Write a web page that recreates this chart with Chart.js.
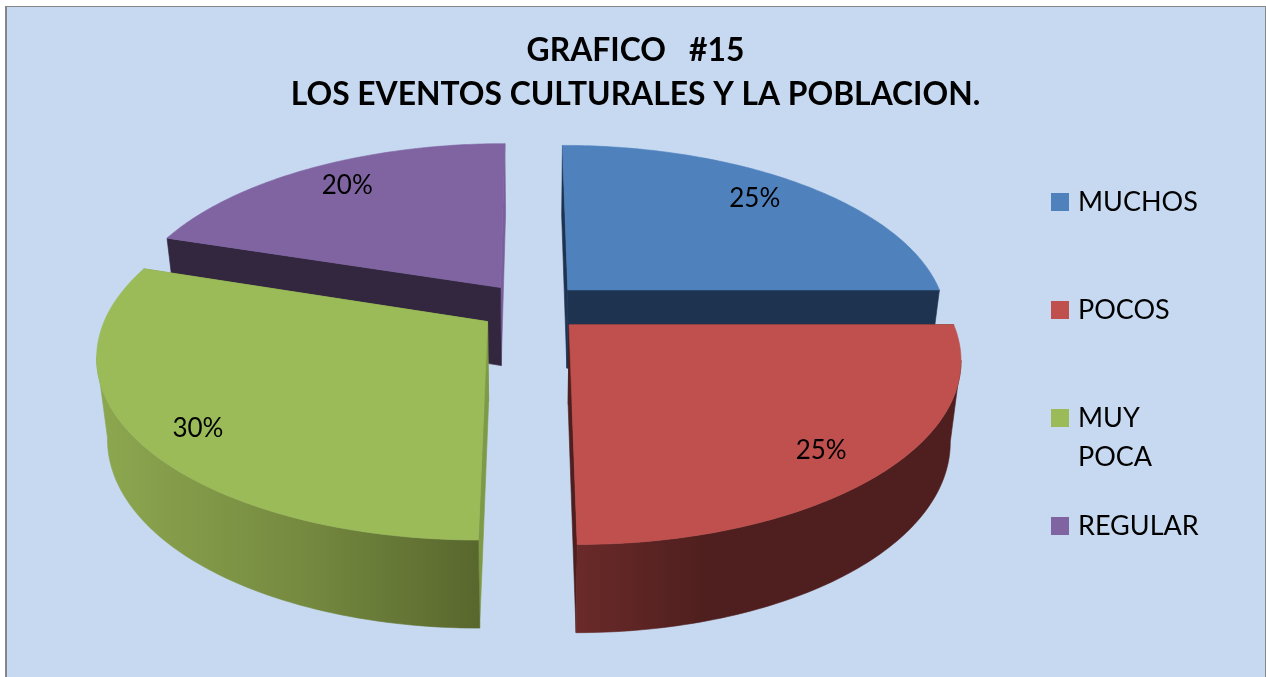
<!DOCTYPE html>
<html>
<head>
<meta charset="utf-8">
<style>html,body{margin:0;padding:0;background:#fff}canvas{display:block}</style>
<script src="https://cdn.jsdelivr.net/npm/chart.js@4/dist/chart.umd.min.js"></script>
</head>
<body>
<canvas id="c" width="1266" height="677"></canvas>
<script>
const titleLines = ['GRAFICO   #15', 'LOS EVENTOS CULTURALES Y LA POBLACION.'];
const categories = ['MUCHOS', 'POCOS', 'MUY POCA', 'REGULAR'];
const values = [25, 25, 30, 20];
const topColors = ['#4F81BD', '#C0504D', '#9BBB59', '#8064A2'];
const startCutColors = ['#1D334F', '#4E1F1E', '#7F9A47', '#33263F'];
const endCutColors = ['#1D334F', '#4E1F1E', '#7F9A47', '#7A5F9B'];
const wallStops = [
  [[0, '#1D334F'], [1, '#1D334F']],
  [[0, '#6A2A29'], [0.35, '#4E1F1E'], [1, '#4E1F1E']],
  [[0, '#8CA64F'], [0.55, '#74883F'], [1, '#58672D']],
  [[0, '#33263F'], [1, '#33263F']]
];
const labelNudge = [[-8, -1], [-4, 7], [-4, 11], [6, 0]];
const FONT = 'Lato, "Open Sans", sans-serif';

// camera for the tilted, exploded pie
const cam = { cx: 531, cy: 307, ax: 378, ay: 175, persp: 0.173, drop0: 79, drop1: 8.4, baseShrink: 0.975 };
const EXPLODE = 0.14, LABEL_R = 0.83, STEPS = 90;

function project(u, v, base) {
  const s = 1 / (1 - cam.persp * v);
  const k = base ? cam.baseShrink : 1;
  return {
    x: cam.cx + cam.ax * u * s * k,
    y: cam.cy + cam.ay * v * s + (base ? cam.drop0 + cam.drop1 * v : 0)
  };
}
function poly(ctx, pts, fill) {
  ctx.beginPath();
  pts.forEach((p, i) => i ? ctx.lineTo(p.x, p.y) : ctx.moveTo(p.x, p.y));
  ctx.closePath();
  ctx.fillStyle = fill;
  ctx.strokeStyle = fill;
  ctx.lineWidth = 0.6;
  ctx.fill();
  ctx.stroke();
}

const pie3d = {
  id: 'pie3d',
  beforeDraw(chart) {
    const ctx = chart.ctx;
    ctx.save();
    ctx.fillStyle = '#fff';
    ctx.fillRect(0, 0, chart.width, chart.height);
    ctx.fillStyle = '#868686';
    ctx.fillRect(5, 6, chart.width - 5, chart.height - 6);
    ctx.fillStyle = '#C6D9F1';
    ctx.fillRect(7, 7, chart.width - 8, chart.height - 7);
    ctx.restore();
  },
  beforeDatasetsDraw(chart) {
    const ctx = chart.ctx;
    const arcs = chart.getDatasetMeta(0).data.map((el, i) => ({ el, i }));
    const mid = a => (a.el.startAngle + a.el.endAngle) / 2;
    arcs.sort((a, b) => Math.sin(mid(a)) - Math.sin(mid(b)));
    ctx.save();
    arcs.forEach(({ el, i }) => {
      const m = (el.startAngle + el.endAngle) / 2;
      const ou = EXPLODE * Math.cos(m), ov = EXPLODE * Math.sin(m);
      const rim = [];
      for (let k = 0; k <= STEPS; k++) {
        const a = el.startAngle + (el.endAngle - el.startAngle) * k / STEPS;
        rim.push({ u: ou + Math.cos(a), v: ov + Math.sin(a), a });
      }
      const apexT = project(ou, ov, false), apexB = project(ou, ov, true);
      const first = rim[0], last = rim[STEPS];
      // cut faces
      [[last, endCutColors[i]], [first, startCutColors[i]]].forEach(([r, col]) => {
        poly(ctx, [apexT, project(r.u, r.v, false), project(r.u, r.v, true), apexB], col);
      });
      // outer wall: from the rim's silhouette point round the side facing the viewer
      const facing = rim.filter(r => Math.sin(r.a) >= 0);
      if (facing.length > 1) {
        const widest = facing.reduce((best, r) =>
          Math.abs(project(r.u, r.v, false).x - cam.cx) > Math.abs(project(best.u, best.v, false).x - cam.cx) ? r : best);
        const front = facing.filter(r => Math.sin(r.a) >= Math.sin(widest.a));
        const t = front.map(r => project(r.u, r.v, false));
        const b = front.map(r => project(r.u, r.v, true));
        const xs = b.map(p => p.x);
        const g = ctx.createLinearGradient(Math.min(...xs), 0, Math.max(...xs), 0);
        wallStops[i].forEach(s => g.addColorStop(s[0], s[1]));
        poly(ctx, t.concat(b.reverse()), g);
      }
      // top face
      poly(ctx, [apexT].concat(rim.map(r => project(r.u, r.v, false))), topColors[i]);
    });
    // value labels
    ctx.fillStyle = '#000';
    ctx.font = '26px ' + FONT;
    ctx.textAlign = 'center';
    ctx.textBaseline = 'middle';
    chart.getDatasetMeta(0).data.forEach((el, i) => {
      const m = (el.startAngle + el.endAngle) / 2;
      const p = project((EXPLODE + LABEL_R) * Math.cos(m), (EXPLODE + LABEL_R) * Math.sin(m), false);
      ctx.fillText(values[i] + '%', p.x + labelNudge[i][0], p.y + labelNudge[i][1]);
    });
    ctx.restore();
    return false;
  },
  afterDraw(chart) {
    // legend: one swatch per category, long names wrap onto a second line
    const ctx = chart.ctx;
    ctx.save();
    ctx.font = '27px ' + FONT;
    ctx.textAlign = 'left';
    ctx.textBaseline = 'middle';
    categories.forEach((name, i) => {
      const y = 201 + i * 108;
      ctx.fillStyle = topColors[i];
      ctx.fillRect(1051, y - 8, 18, 18);
      ctx.fillStyle = '#000';
      name.split(' ').forEach((line, j) => ctx.fillText(line, 1078, y + 1.5 + j * 39));
    });
    ctx.restore();
  }
};

new Chart(document.getElementById('c'), {
  type: 'pie',
  plugins: [pie3d],
  data: {
    labels: categories,
    datasets: [{ data: values, backgroundColor: topColors, borderWidth: 0 }]
  },
  options: {
    responsive: false,
    animation: false,
    events: [],
    layout: { padding: { top: 29, left: 5 } },
    plugins: {
      legend: { display: false },
      tooltip: { enabled: false },
      title: {
        display: true,
        text: titleLines,
        color: '#000',
        font: { family: FONT, size: 31.8, weight: 'bold', lineHeight: 1.384 },
        padding: 0
      }
    }
  }
});
</script>
</body>
</html>
